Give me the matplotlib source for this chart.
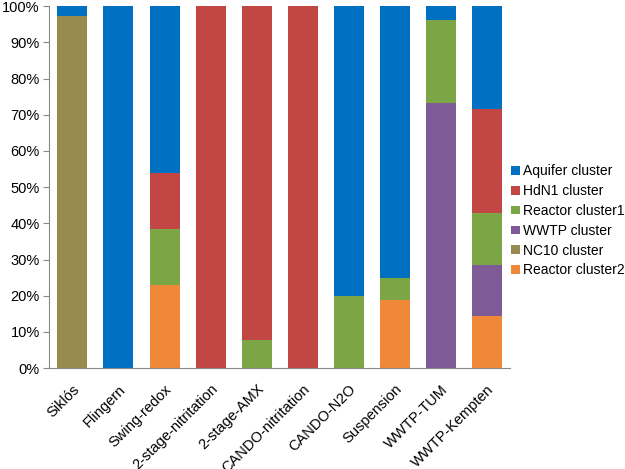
import numpy as np
import matplotlib
matplotlib.use("Agg")
import matplotlib.pyplot as plt
from matplotlib.ticker import PercentFormatter

plt.rcParams['font.family'] = ['Liberation Sans', 'DejaVu Sans']

sites = ["Siklós", "Flingern", "Swing-redox", "2-stage-nitritation", "2-stage-AMX",
         "CANDO-nitritation", "CANDO-N2O", "Suspension", "WWTP-TUM", "WWTP-Kempten"]

# percentages, stacked from bottom to top
reactor2 = [0, 0, 23.1, 0, 0, 0, 0, 18.75, 0, 14.3]
nc10 = [97.3, 0, 0, 0, 0, 0, 0, 0, 0, 0]
wwtp = [0, 0, 0, 0, 0, 0, 0, 0, 73.1, 14.3]
reactor1 = [0, 0, 15.4, 0, 7.7, 0, 20.0, 6.25, 23.1, 14.3]
hdn1 = [0, 0, 15.4, 100, 92.3, 100, 0, 0, 0, 28.6]
aquifer = [2.7, 100, 46.1, 0, 0, 0, 80.0, 75.0, 3.8, 28.5]

series = [
    ("Reactor cluster2", reactor2, "#F0883A"),
    ("NC10 cluster", nc10, "#998A4F"),
    ("WWTP cluster", wwtp, "#7E5A96"),
    ("Reactor cluster1", reactor1, "#7CA646"),
    ("HdN1 cluster", hdn1, "#C24744"),
    ("Aquifer cluster", aquifer, "#0070C3"),
]

fig = plt.figure(figsize=(6.25, 4.69), dpi=100)
ax = fig.add_axes([0.079, 0.215, 0.737, 0.772])

x = np.arange(len(sites))
bottom = np.zeros(len(sites))
handles = []
for name, vals, col in series:
    b = ax.bar(x, vals, 0.65, bottom=bottom, color=col, label=name)
    handles.append(b)
    bottom += np.array(vals)

ax.set_ylim(0, 100)
ax.set_xlim(-0.5, len(sites) - 0.5)
ax.set_yticks(np.arange(0, 101, 10))
ax.yaxis.set_major_formatter(PercentFormatter(decimals=0))
ax.set_xticks(x)
ax.set_xticklabels(sites, rotation=45, ha="right", va="top", rotation_mode="anchor")
ax.tick_params(axis="y", labelsize=10.5, length=4, color="#888888", direction="out", pad=3)
ax.tick_params(axis="x", labelsize=10.5, length=0, pad=10)
for s in ["top", "right"]:
    ax.spines[s].set_visible(False)
for s in ["left", "bottom"]:
    ax.spines[s].set_color("#888888")

leg = fig.legend(handles[::-1], [h.get_label() for h in handles[::-1]],
                 loc="center left", bbox_to_anchor=(0.818, 0.529), frameon=False,
                 fontsize=10, handlelength=0.6, handleheight=0.6, handletextpad=0.25,
                 labelspacing=0.42, borderaxespad=0, borderpad=0)

fig.savefig("out.png", dpi=100)
